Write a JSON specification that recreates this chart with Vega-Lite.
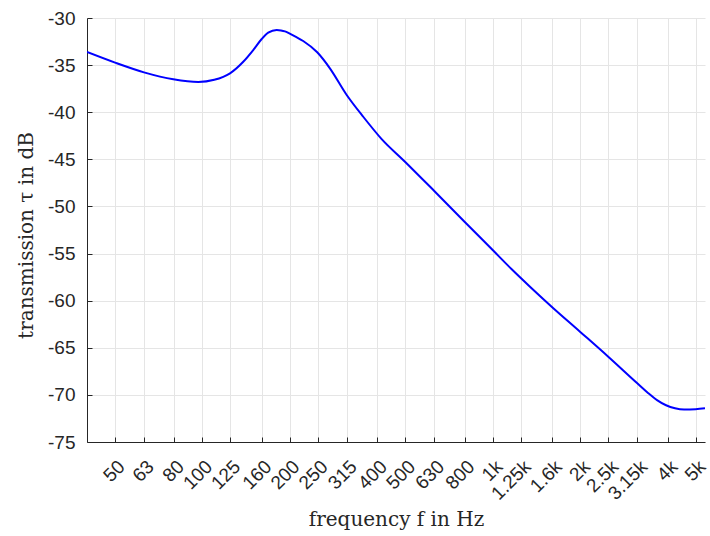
{
  "$schema": "https://vega.github.io/schema/vega-lite/v6.json",
  "width": 618,
  "height": 424,
  "autosize": {"type": "none"},
  "padding": {"left": 87, "top": 18, "right": 5, "bottom": 94},
  "background": "white",
  "config": {
    "view": {"stroke": null},
    "axis": {
      "domainColor": "#262626",
      "tickColor": "#262626",
      "labelColor": "#262626",
      "titleColor": "#262626",
      "gridColor": "#e5e5e5",
      "gridWidth": 1,
      "labelFont": "Liberation Sans",
      "labelFontSize": 19,
      "titleFont": "DejaVu Serif",
      "titleFontSize": 20,
      "titleFontWeight": "normal",
      "tickSize": -5,
      "domainWidth": 1
    }
  },
  "data": {
    "values": [
      {"f": 40.1, "tau": -33.61},
      {"f": 50.1, "tau": -34.74},
      {"f": 63.0, "tau": -35.77},
      {"f": 79.5, "tau": -36.51},
      {"f": 96.9, "tau": -36.79},
      {"f": 110, "tau": -36.56},
      {"f": 124.6, "tau": -35.87},
      {"f": 138.4, "tau": -34.64},
      {"f": 149.8, "tau": -33.4},
      {"f": 160.2, "tau": -32.23},
      {"f": 168.7, "tau": -31.56},
      {"f": 180.4, "tau": -31.27},
      {"f": 186.6, "tau": -31.32},
      {"f": 192.6, "tau": -31.42},
      {"f": 199.4, "tau": -31.63},
      {"f": 210.2, "tau": -32.0},
      {"f": 222.6, "tau": -32.44},
      {"f": 248.8, "tau": -33.64},
      {"f": 275.1, "tau": -35.34},
      {"f": 314.3, "tau": -38.17},
      {"f": 358.3, "tau": -40.48},
      {"f": 414.7, "tau": -42.85},
      {"f": 498.9, "tau": -45.25},
      {"f": 629.3, "tau": -48.36},
      {"f": 798.4, "tau": -51.59},
      {"f": 1000, "tau": -54.63},
      {"f": 1162.8, "tau": -56.67},
      {"f": 1344, "tau": -58.52},
      {"f": 1596, "tau": -60.64},
      {"f": 1998, "tau": -63.29},
      {"f": 2500, "tau": -65.95},
      {"f": 3147, "tau": -68.77},
      {"f": 3426, "tau": -69.79},
      {"f": 3680, "tau": -70.55},
      {"f": 3953, "tau": -71.1},
      {"f": 4244, "tau": -71.42},
      {"f": 4559, "tau": -71.55},
      {"f": 5000, "tau": -71.52},
      {"f": 5383, "tau": -71.43}
    ]
  },
  "mark": {"type": "line", "color": "#0000ff", "strokeWidth": 2, "interpolate": "monotone", "clip": true},
  "encoding": {
    "x": {
      "field": "f",
      "type": "quantitative",
      "scale": {"type": "log", "domain": [40.1, 5383], "nice": false},
      "axis": {
        "title": "frequency f in Hz",
        "values": [50, 63, 80, 100, 125, 160, 200, 250, 315, 400, 500, 630, 800, 1000, 1250, 1600, 2000, 2500, 3150, 4000, 5000],
        "labelExpr": "datum.value >= 1000 ? (datum.value / 1000) + 'k' : '' + datum.value",
        "labelAngle": -45,
        "labelAlign": "right",
        "labelBaseline": "top",
        "labelPadding": 20,
        "labelOverlap": false,
        "titleBaseline": "alphabetic",
        "titleY": 83
      }
    },
    "y": {
      "field": "tau",
      "type": "quantitative",
      "scale": {"domain": [-75, -30], "nice": false, "zero": false},
      "axis": {
        "title": "transmission τ in dB",
        "values": [-75, -70, -65, -60, -55, -50, -45, -40, -35, -30],
        "labelExpr": "'' + datum.value",
        "labelPadding": 17,
        "titleBaseline": "alphabetic",
        "titleX": -55,
        "titleY": 217
      }
    }
  }
}
